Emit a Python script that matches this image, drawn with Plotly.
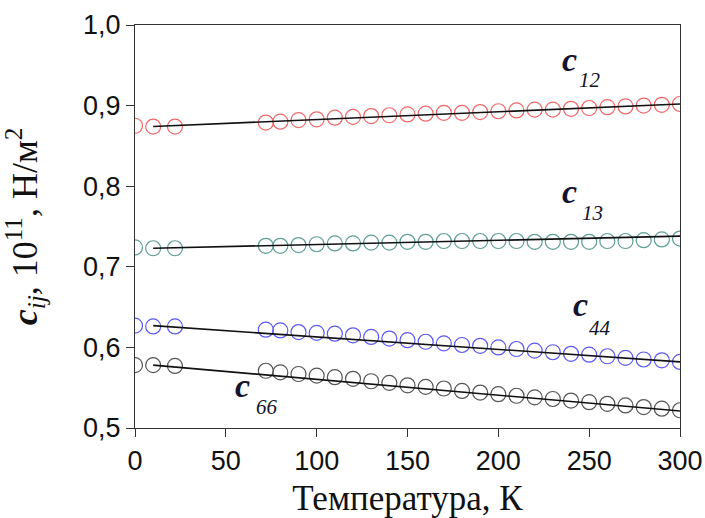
import plotly.graph_objects as go

T = [0, 10, 22, 72, 80, 90, 100, 110, 120, 130, 140, 150, 160, 170, 180, 190,
     200, 210, 220, 230, 240, 250, 260, 270, 280, 290, 300]

c12 = [0.875, 0.874, 0.874, 0.879, 0.880, 0.882, 0.883, 0.885, 0.886, 0.887, 0.888,
       0.889, 0.890, 0.891, 0.891, 0.892, 0.893, 0.894, 0.895, 0.895, 0.896, 0.897,
       0.898, 0.899, 0.900, 0.901, 0.902]
c13 = [0.724, 0.723, 0.723, 0.726, 0.726, 0.727, 0.728, 0.729, 0.729, 0.730, 0.730,
       0.731, 0.731, 0.732, 0.732, 0.732, 0.732, 0.732, 0.731, 0.731, 0.731, 0.731,
       0.732, 0.732, 0.733, 0.734, 0.735]
c44 = [0.627, 0.626, 0.626, 0.622, 0.621, 0.619, 0.618, 0.617, 0.615, 0.613, 0.611,
       0.609, 0.607, 0.605, 0.603, 0.602, 0.600, 0.598, 0.596, 0.594, 0.592, 0.591,
       0.589, 0.587, 0.585, 0.584, 0.582]
c66 = [0.578, 0.578, 0.577, 0.571, 0.569, 0.567, 0.565, 0.563, 0.561, 0.558, 0.556,
       0.553, 0.551, 0.549, 0.546, 0.544, 0.542, 0.540, 0.538, 0.536, 0.534, 0.532,
       0.530, 0.528, 0.526, 0.524, 0.522]

fit_T = [10, 300]
fit_c12 = [0.874, 0.902]
fit_c13 = [0.723, 0.738]
fit_c44 = [0.627, 0.582]
fit_c66 = [0.578, 0.521]

x_ticks = [0, 50, 100, 150, 200, 250, 300]
y_ticks = [0.5, 0.6, 0.7, 0.8, 0.9, 1.0]

series = [
    ("c12", c12, fit_c12, "#f06868"),
    ("c13", c13, fit_c13, "#5f9e96"),
    ("c44", c44, fit_c44, "#5a5af0"),
    ("c66", c66, fit_c66, "#555555"),
]

labels = [
    ("12", 239, 0.957, 250.5, 0.932),
    ("13", 239.4, 0.793, 251.6, 0.767),
    ("44", 245, 0.653, 256, 0.624),
    ("66", 59.4, 0.553, 72.7, 0.526),
]

fig = go.Figure()
for name, vals, fit, col in series:
    fig.add_trace(go.Scatter(
        x=T, y=vals, mode="markers", name=name,
        marker=dict(symbol="circle-open", size=15, color=col, line=dict(width=1.2, color=col)),
        showlegend=False,
    ))
    fig.add_trace(go.Scatter(
        x=fit_T, y=fit, mode="lines", line=dict(color="#111111", width=1.6),
        showlegend=False,
    ))

serif = "Liberation Serif, Times New Roman, serif"
for sub, cx, cy, sx, sy in labels:
    fig.add_annotation(x=cx, y=cy, text="<b><i>c</i></b>", showarrow=False,
                       font=dict(family=serif, size=34, color="#14142e"))
    fig.add_annotation(x=sx, y=sy, text="<i>" + sub + "</i>", showarrow=False,
                       font=dict(family=serif, size=21, color="#14142e"))

axis_common = dict(
    showline=True, linecolor="#333333", linewidth=1.3, mirror=True,
    ticks="outside", ticklen=8, tickwidth=1.3, tickcolor="#333333",
    showgrid=False, zeroline=False, automargin=False,
    tickfont=dict(family="Liberation Sans, Arial, sans-serif", size=27, color="#111111"),
)

fig.update_xaxes(range=[0, 300], tickvals=x_ticks,
                 title=dict(text="Температура, К", font=dict(family=serif, size=35, color="#111111"),
                            standoff=10),
                 **axis_common)
fig.update_yaxes(range=[0.5, 1.0], tickvals=y_ticks, tickformat=".1f",
                 title=dict(text="<b><i>c</i></b><sub><i>ij</i></sub>, 10<sup>11</sup>, Н/м<sup>2</sup>",
                            font=dict(family=serif, size=36, color="#111111"), standoff=42),
                 **axis_common)

fig.update_layout(
    width=705, height=518,
    margin=dict(l=135, r=25, t=25, b=90),
    plot_bgcolor="white", paper_bgcolor="white",
    separators=", ",
)

fig.write_html("out.html")
